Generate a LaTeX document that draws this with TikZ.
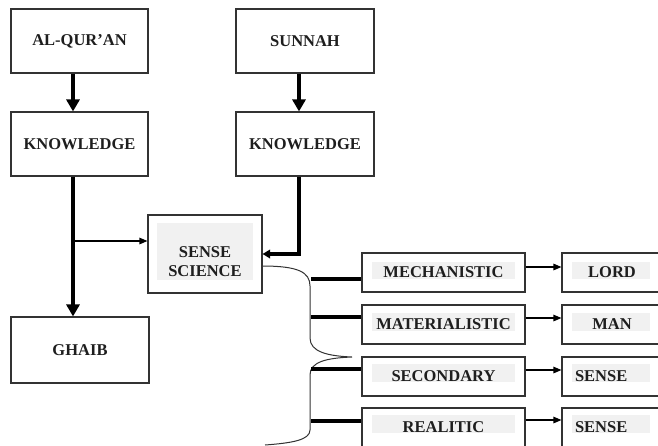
\documentclass[tikz,border=0pt]{standalone}
\usepackage{fontspec}
\setmainfont{Liberation Serif}
\usetikzlibrary{arrows.meta,calc}
\definecolor{ink}{HTML}{1E1E1E}
\definecolor{edge}{HTML}{333333}
\definecolor{softgray}{HTML}{F1F1F1}
\tikzset{
  box/.style={draw=edge, line width=1.1pt, rectangle, inner sep=0pt, text=ink,
    font=\fontsize{16.5}{18.5}\selectfont\bfseries, align=center},
  bigbox/.style={box, minimum width=137pt, minimum height=64pt},
  rowbox/.style={box, minimum width=163pt, minimum height=39pt},
  endbox/.style={box, minimum height=39pt, text width=74pt, inner xsep=13pt},
  heavy/.style={draw=black, line width=3.5pt, -{Triangle[width=13pt,length=12pt]}},
  medium/.style={draw=black, line width=3.2pt, -{Triangle[width=8.5pt,length=7.5pt]}},
  light/.style={draw=black, line width=1.2pt, -{Triangle[width=6.5pt,length=8pt]}},
  bar/.style={draw=black, line width=3.2pt},
  bracket/.style={draw=edge, line width=1pt},
}
\begin{document}
\begin{tikzpicture}[x=1pt,y=-1pt]
\useasboundingbox (0,0) rectangle (658,445);
\clip (0,0) rectangle (658,445);
\fill[white] (0,0) rectangle (658,445);
% light text backgrounds
\fill[softgray] (157,223) rectangle (253,280);
\fill[softgray] (372,262) rectangle (515,279);
\fill[softgray] (372,313) rectangle (515,331);
\fill[softgray] (372,364) rectangle (515,382);
\fill[softgray] (372,415) rectangle (515,433);
\fill[softgray] (572,262) rectangle (650,279);
\fill[softgray] (572,313) rectangle (650,331);
\fill[softgray] (572,364) rectangle (650,382);
\fill[softgray] (572,415) rectangle (650,433);
% boxes
\node[bigbox] (quran) at (79.5,41) {AL-QUR’AN};
\node[bigbox] (know1) at (79.5,144) {KNOWLEDGE};
\node[bigbox, minimum width=138pt] (sunnah) at (305,41) {SUNNAH};
\node[bigbox, minimum width=138pt] (know2) at (305,144) {KNOWLEDGE};
\node[box, minimum width=114pt, minimum height=78pt] (sense) at (205,254) {\rule{0pt}{26pt}SENSE\\SCIENCE};
\node[bigbox, minimum width=138pt, minimum height=66pt] (ghaib) at (80,350) {GHAIB};
\node[rowbox] (mech) at (443.5,272.5) {MECHANISTIC};
\node[rowbox] (mat)  at (443.5,324.5) {MATERIALISTIC};
\node[rowbox] (sec)  at (443.5,376.5) {SECONDARY};
\node[rowbox] (real) at (443.5,427.5) {REALITIC};
\node[endbox] (lord) at (612,272.5) {LORD};
\node[endbox] (man)  at (612,324.5) {MAN};
\node[endbox, align=left] (sens1) at (612,376.5) {SENSE};
\node[endbox, align=left] (sens2) at (612,427.5) {SENSE};
% left column arrows
\coordinate (q1) at ($(quran.south)+(-6.5,0)$);
\draw[heavy] (q1) -- (q1 |- know1.north);
\coordinate (k1) at ($(know1.south)+(-6.5,0)$);
\draw[heavy] (k1) -- (k1 |- ghaib.north);
\coordinate (j1) at (73,241);
\draw[light] (j1) -- (j1 -| sense.west);
% sunnah column arrows
\coordinate (s1) at ($(sunnah.south)+(-6,0)$);
\draw[heavy] (s1) -- (s1 |- know2.north);
\coordinate (s2) at ($(know2.south)+(-6,0)$);
\draw[medium] (s2) |- (sense.east);
% brace
\draw[bracket] (262,266) .. controls (298,266) and (310,272) .. (310,286)
  -- (310,338) .. controls (310,352) and (328,356) .. (352,357)
  .. controls (326,358) and (310,362) .. (310,375)
  -- (310,430) .. controls (310,440) and (292,443) .. (265,445);
% bars to the row boxes
\coordinate (b1) at (311,279);
\coordinate (b2) at (311,317);
\coordinate (b3) at (311,369);
\coordinate (b4) at (311,421);
\draw[bar] (b1) -- (b1 -| mech.west);
\draw[bar] (b2) -- (b2 -| mat.west);
\draw[bar] (b3) -- (b3 -| sec.west);
\draw[bar] (b4) -- (b4 -| real.west);
% arrows to end boxes
\coordinate (r1) at ($(mech.east)+(0,-5.5)$);
\coordinate (r2) at ($(mat.east)+(0,-6.5)$);
\coordinate (r3) at ($(sec.east)+(0,-6.5)$);
\coordinate (r4) at ($(real.east)+(0,-7.5)$);
\draw[light] (r1) -- (r1 -| lord.west);
\draw[light] (r2) -- (r2 -| man.west);
\draw[light] (r3) -- (r3 -| sens1.west);
\draw[light] (r4) -- (r4 -| sens2.west);
\end{tikzpicture}
\end{document}
